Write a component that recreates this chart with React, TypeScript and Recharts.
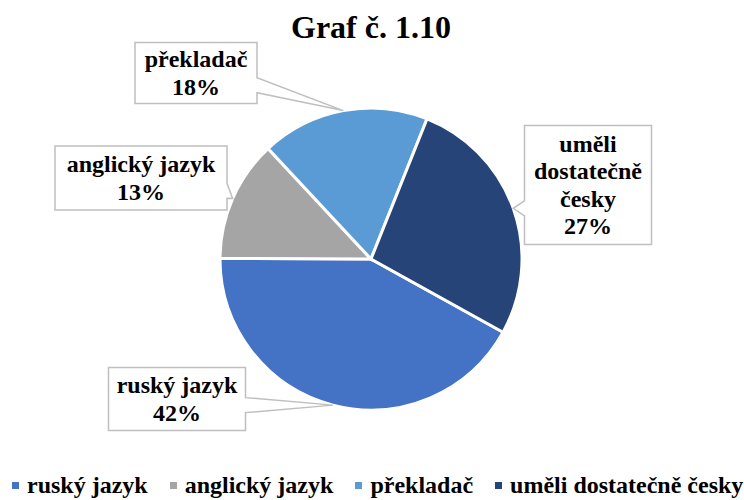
import React from "react"
import { PieChart, Pie, Cell, Legend } from "recharts"

const categories = ["ruský jazyk", "anglický jazyk", "překladač", "uměli dostatečně česky"]
const shares = [42, 13, 18, 27]
const colors = ["#4472C4", "#A5A5A5", "#5B9BD5", "#264478"]
const chartTitle = "Graf č. 1.10"

const data = categories.map((name, i) => ({ name, value: shares[i] }))

const FONT = "'Liberation Serif', 'Times New Roman', serif"
const RAD = Math.PI / 180

// callout boxes, offset of box centre from the pie centre
const callouts = [
  { dx: -194, dy: 140, w: 137, h: 63, wrap: false },
  { dx: -230, dy: -81, w: 172, h: 64, wrap: false },
  { dx: -175, dy: -186, w: 122, h: 61, wrap: false },
  { dx: 217, dy: -74, w: 127, h: 119, wrap: true },
]

const clamp = (v: number, lo: number, hi: number) => Math.max(lo, Math.min(hi, v))

function renderCallout(props: any) {
  const { cx, cy, midAngle, outerRadius, index, percent, name } = props
  const tx = cx + outerRadius * Math.cos(-midAngle * RAD)
  const ty = cy + outerRadius * Math.sin(-midAngle * RAD)
  const box = callouts[index]
  const bx = cx + box.dx - box.w / 2
  const by = cy + box.dy - box.h / 2
  const right = bx + box.w
  const bottom = by + box.h
  const mid = clamp(ty, by + box.h * 0.2, by + box.h * 0.7)
  const b0 = mid - 7.5
  const b1 = mid + 7.5

  let d = `M${bx},${by} L${right},${by} `
  if (tx > right) d += `L${right},${b0} L${tx},${ty} L${right},${b1} `
  d += `L${right},${bottom} L${bx},${bottom} `
  if (tx < bx) d += `L${bx},${b1} L${tx},${ty} L${bx},${b0} `
  d += "Z"

  const lines = box.wrap ? String(name).split(" ") : [String(name)]
  lines.push(`${Math.round(percent * 100)}%`)
  const lh = lines.length > 2 ? 27.5 : 28
  const first = by + box.h / 2 - ((lines.length - 1) * lh) / 2 + 8

  return (
    <g key={`callout-${index}`}>
      <path d={d} fill="#ffffff" stroke="#BFBFBF" strokeWidth={1.5} />
      {lines.map((ln, i) => (
        <text
          key={i}
          x={bx + box.w / 2}
          y={first + i * lh}
          textAnchor="middle"
          fontFamily={FONT}
          fontWeight="bold"
          fontSize={24}
          fill="#000000"
        >
          {ln}
        </text>
      ))}
    </g>
  )
}

function LegendContent() {
  return (
    <div style={{ display: "flex", alignItems: "center", fontFamily: FONT, fontWeight: "bold", fontSize: 24, lineHeight: "24px", color: "#000" }}>
      {categories.map((c, i) => (
        <div key={c} style={{ display: "flex", alignItems: "center", marginRight: 22, whiteSpace: "nowrap" }}>
          <span style={{ display: "inline-block", width: 7, height: 7, background: colors[i], marginRight: 8 }} />
          <span>{c}</span>
        </div>
      ))}
    </div>
  )
}

export default function App() {
  return (
    <div style={{ position: "absolute", left: 0, top: 0, width: 744, height: 500, background: "#fff", overflow: "hidden" }}>
      <PieChart width={744} height={500} margin={{ top: 0, right: 0, bottom: 0, left: 0 }}>
        <text x={371} y={38} textAnchor="middle" fontFamily={FONT} fontWeight="bold" fontSize={32} fill="#000">
          {chartTitle}
        </text>
        <Pie
          data={data}
          dataKey="value"
          nameKey="name"
          cx={371}
          cy={259}
          outerRadius={151}
          startAngle={-29}
          endAngle={-389}
          stroke="#ffffff"
          strokeWidth={3}
          label={renderCallout}
          labelLine={false}
          isAnimationActive={false}
        >
          {data.map((d, i) => (
            <Cell key={d.name} fill={colors[i]} />
          ))}
        </Pie>
        <Legend
          content={<LegendContent />}
          wrapperStyle={{ position: "absolute", left: 12, top: 473, width: 740, height: 24 }}
        />
      </PieChart>
    </div>
  )
}
